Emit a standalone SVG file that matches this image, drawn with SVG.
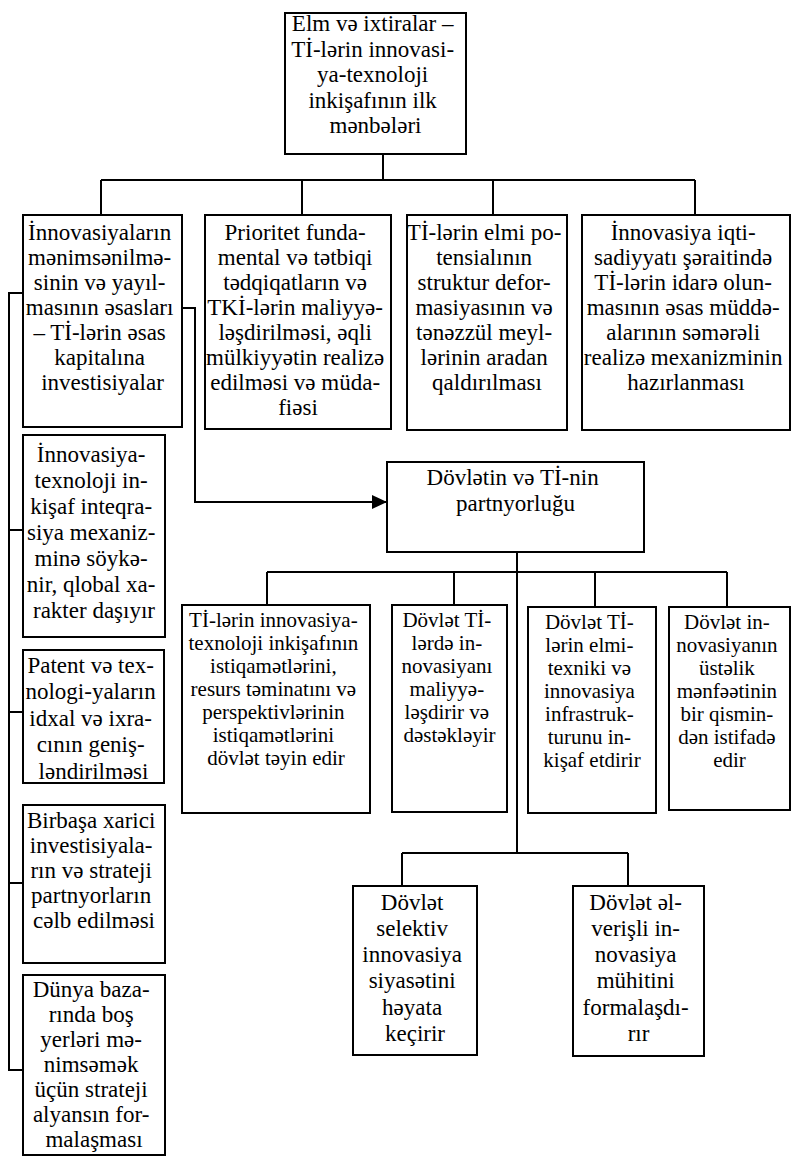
<svg xmlns="http://www.w3.org/2000/svg" width="792" height="1174" viewBox="0 0 792 1174">
  <style>
    .box { fill: #ffffff; stroke: #000000; stroke-width: 2; }
    .wire { fill: none; stroke: #000000; stroke-width: 2; }
    .t { font-family: "Liberation Serif", "DejaVu Serif", serif; font-size: 23px; fill: #000000; text-anchor: middle; }
    .t2 { font-family: "Liberation Serif", "DejaVu Serif", serif; font-size: 21px; fill: #000000; text-anchor: middle; }
  </style>
  <defs>
    <marker id="arrow" markerUnits="userSpaceOnUse" markerWidth="16" markerHeight="14" refX="15" refY="7" orient="auto">
      <path d="M0,0 L15,7 L0,14 Z" fill="#000000"/>
    </marker>
  </defs>
  <rect width="792" height="1174" fill="#ffffff"/>

  <!-- connectors -->
  <g id="connectors">
    <!-- root to first row -->
    <path class="wire" d="M383,154 V180 M101,180 H695 M101,180 V215 M302,180 V215 M493,180 V215 M695,180 V215"/>
    <!-- left column bus -->
    <path class="wire" d="M23,293 H9 V1070 H23 M9,530 H23 M9,712 H23 M9,883 H23"/>
    <!-- first box to partnership -->
    <path class="wire" d="M182,308 H195 V502 H387" marker-end="url(#arrow)"/>
    <!-- partnership to second row -->
    <path class="wire" d="M517,552 V853 M267,572 H727 M267,572 V605 M454,572 V605 M595,572 V607 M727,572 V607"/>
    <!-- to bottom row -->
    <path class="wire" d="M402,853 H628 M402,853 V886 M628,853 V886"/>
  </g>

  <g id="root">
    <rect class="box" x="285" y="13" width="181" height="141"/>
    <text class="t">
      <tspan x="375.5" y="31">Elm və ixtiralar –</tspan>
      <tspan x="375.5" y="57">Tİ-lərin innovasi-</tspan>
      <tspan x="375.5" y="82">ya-texnoloji</tspan>
      <tspan x="375.5" y="108">inkişafının ilk</tspan>
      <tspan x="375.5" y="133">mənbələri</tspan>
    </text>
  </g>

  <g id="b1">
    <rect class="box" x="23" y="215" width="159" height="212"/>
    <text class="t">
      <tspan x="102.5" y="240">İnnovasiyaların</tspan>
      <tspan x="102.5" y="265">mənimsənilmə-</tspan>
      <tspan x="102.5" y="290">sinin və yayıl-</tspan>
      <tspan x="102.5" y="315">masının əsasları</tspan>
      <tspan x="102.5" y="340">– Tİ-lərin əsas</tspan>
      <tspan x="102.5" y="365">kapitalına</tspan>
      <tspan x="102.5" y="390">investisiyalar</tspan>
    </text>
  </g>

  <g id="b2">
    <rect class="box" x="205" y="215" width="186" height="214"/>
    <text class="t">
      <tspan x="298" y="240">Prioritet funda-</tspan>
      <tspan x="298" y="265">mental və tətbiqi</tspan>
      <tspan x="298" y="290">tədqiqatların və</tspan>
      <tspan x="298" y="315">TKİ-lərin maliyyə-</tspan>
      <tspan x="298" y="340">ləşdirilməsi, əqli</tspan>
      <tspan x="298" y="365">mülkiyyətin realizə</tspan>
      <tspan x="298" y="390">edilməsi və müda-</tspan>
      <tspan x="298" y="415">fiəsi</tspan>
    </text>
  </g>

  <g id="b3">
    <rect class="box" x="407" y="215" width="160" height="215"/>
    <text class="t">
      <tspan x="487" y="240">Tİ-lərin elmi po-</tspan>
      <tspan x="487" y="265">tensialının</tspan>
      <tspan x="487" y="290">struktur defor-</tspan>
      <tspan x="487" y="315">masiyasının və</tspan>
      <tspan x="487" y="340">tənəzzül meyl-</tspan>
      <tspan x="487" y="365">lərinin aradan</tspan>
      <tspan x="487" y="390">qaldırılması</tspan>
    </text>
  </g>

  <g id="b4">
    <rect class="box" x="582" y="215" width="208" height="215"/>
    <text class="t">
      <tspan x="686" y="240">İnnovasiya iqti-</tspan>
      <tspan x="686" y="265">sadiyyatı şəraitində</tspan>
      <tspan x="686" y="290">Tİ-lərin idarə olun-</tspan>
      <tspan x="686" y="315">masının əsas müddə-</tspan>
      <tspan x="686" y="340">alarının səmərəli</tspan>
      <tspan x="686" y="365">realizə mexanizminin</tspan>
      <tspan x="686" y="390">hazırlanması</tspan>
    </text>
  </g>

  <g id="a2">
    <rect class="box" x="23" y="435" width="142" height="202"/>
    <text class="t">
      <tspan x="94" y="462">İnnovasiya-</tspan>
      <tspan x="94" y="488">texnoloji in-</tspan>
      <tspan x="94" y="514">kişaf inteqra-</tspan>
      <tspan x="94" y="540">siya mexaniz-</tspan>
      <tspan x="94" y="566">minə söykə-</tspan>
      <tspan x="94" y="592">nir, qlobal xa-</tspan>
      <tspan x="94" y="618">rakter daşıyır</tspan>
    </text>
  </g>

  <g id="a3">
    <rect class="box" x="23" y="650" width="141" height="133"/>
    <text class="t">
      <tspan x="93.5" y="673">Patent və tex-</tspan>
      <tspan x="93.5" y="699">nologi-yaların</tspan>
      <tspan x="93.5" y="726">idxal və ixra-</tspan>
      <tspan x="93.5" y="752">cının geniş-</tspan>
      <tspan x="93.5" y="779">ləndirilməsi</tspan>
    </text>
  </g>

  <g id="a4">
    <rect class="box" x="23" y="805" width="142" height="158"/>
    <text class="t">
      <tspan x="94" y="828">Birbaşa xarici</tspan>
      <tspan x="94" y="853">investisiyala-</tspan>
      <tspan x="94" y="878">rın və strateji</tspan>
      <tspan x="94" y="903">partnyorların</tspan>
      <tspan x="94" y="928">cəlb edilməsi</tspan>
    </text>
  </g>

  <g id="a5">
    <rect class="box" x="23" y="975" width="142" height="180"/>
    <text class="t">
      <tspan x="94" y="997">Dünya baza-</tspan>
      <tspan x="94" y="1022">rında boş</tspan>
      <tspan x="94" y="1047">yerləri mə-</tspan>
      <tspan x="94" y="1072">nimsəmək</tspan>
      <tspan x="94" y="1097">üçün strateji</tspan>
      <tspan x="94" y="1122">alyansın for-</tspan>
      <tspan x="94" y="1147">malaşması</tspan>
    </text>
  </g>

  <g id="partnership">
    <rect class="box" x="387" y="462" width="257" height="90"/>
    <text class="t">
      <tspan x="515.5" y="485">Dövlətin və Tİ-nin</tspan>
      <tspan x="515.5" y="511">partnyorluğu</tspan>
    </text>
  </g>

  <g id="c1">
    <rect class="box" x="182" y="605" width="188" height="208"/>
    <text class="t2">
      <tspan x="276" y="627">Tİ-lərin innovasiya-</tspan>
      <tspan x="276" y="650">texnoloji inkişafının</tspan>
      <tspan x="276" y="673">istiqamətlərini,</tspan>
      <tspan x="276" y="696">resurs təminatını və</tspan>
      <tspan x="276" y="719">perspektivlərinin</tspan>
      <tspan x="276" y="742">istiqamətlərini</tspan>
      <tspan x="276" y="765">dövlət təyin edir</tspan>
    </text>
  </g>

  <g id="c2">
    <rect class="box" x="392" y="605" width="115" height="207"/>
    <text class="t2">
      <tspan x="449.5" y="627">Dövlət Tİ-</tspan>
      <tspan x="449.5" y="650">lərdə in-</tspan>
      <tspan x="449.5" y="673">novasiyanı</tspan>
      <tspan x="449.5" y="696">maliyyə-</tspan>
      <tspan x="449.5" y="719">ləşdirir və</tspan>
      <tspan x="449.5" y="742">dəstəkləyir</tspan>
    </text>
  </g>

  <g id="c3">
    <rect class="box" x="528" y="607" width="128" height="206"/>
    <text class="t2">
      <tspan x="592" y="629">Dövlət Tİ-</tspan>
      <tspan x="592" y="652">lərin elmi-</tspan>
      <tspan x="592" y="675">texniki və</tspan>
      <tspan x="592" y="698">innovasiya</tspan>
      <tspan x="592" y="721">infrastruk-</tspan>
      <tspan x="592" y="744">turunu in-</tspan>
      <tspan x="592" y="767">kişaf etdirir</tspan>
    </text>
  </g>

  <g id="c4">
    <rect class="box" x="669" y="607" width="121" height="203"/>
    <text class="t2">
      <tspan x="729.5" y="629">Dövlət in-</tspan>
      <tspan x="729.5" y="652">novasiyanın</tspan>
      <tspan x="729.5" y="675">üstəlik</tspan>
      <tspan x="729.5" y="698">mənfəətinin</tspan>
      <tspan x="729.5" y="721">bir qismin-</tspan>
      <tspan x="729.5" y="744">dən istifadə</tspan>
      <tspan x="729.5" y="767">edir</tspan>
    </text>
  </g>

  <g id="d1">
    <rect class="box" x="353" y="886" width="124" height="169"/>
    <text class="t">
      <tspan x="415" y="910">Dövlət</tspan>
      <tspan x="415" y="936">selektiv</tspan>
      <tspan x="415" y="962">innovasiya</tspan>
      <tspan x="415" y="988">siyasətini</tspan>
      <tspan x="415" y="1015">həyata</tspan>
      <tspan x="415" y="1041">keçirir</tspan>
    </text>
  </g>

  <g id="d2">
    <rect class="box" x="573" y="886" width="131" height="170"/>
    <text class="t">
      <tspan x="638.5" y="910">Dövlət əl-</tspan>
      <tspan x="638.5" y="936">verişli in-</tspan>
      <tspan x="638.5" y="962">novasiya</tspan>
      <tspan x="638.5" y="988">mühitini</tspan>
      <tspan x="638.5" y="1015">formalaşdı-</tspan>
      <tspan x="638.5" y="1041">rır</tspan>
    </text>
  </g>
</svg>
